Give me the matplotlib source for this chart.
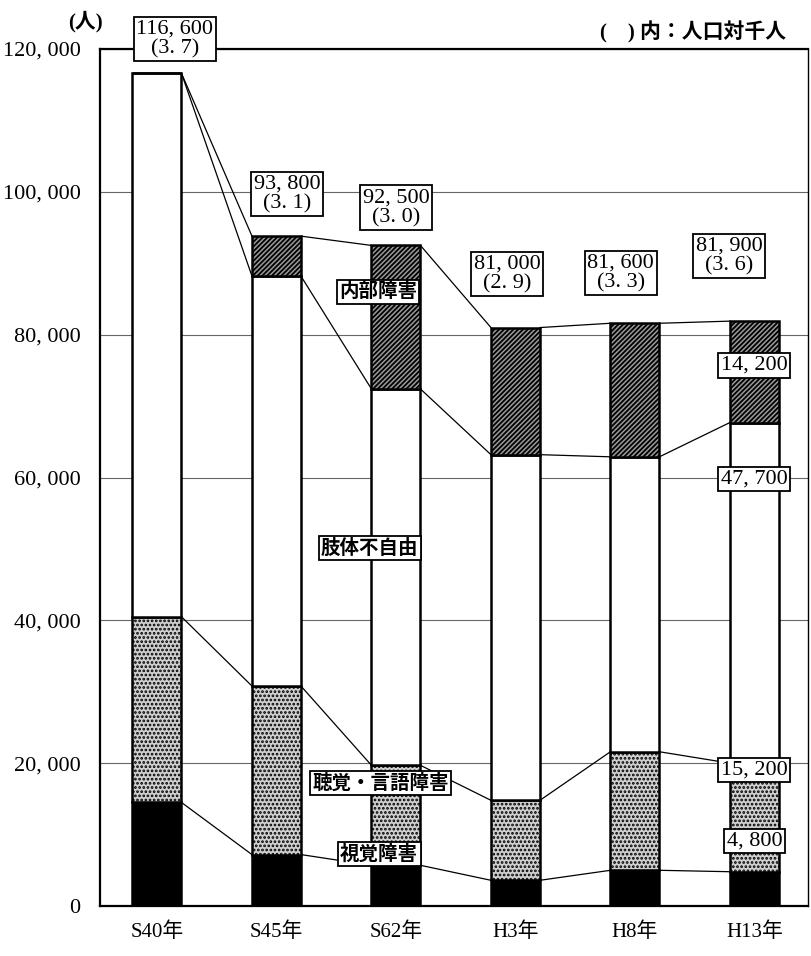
import matplotlib.pyplot as plt
import numpy as np

plt.rcParams['font.family'] = ['Liberation Serif', 'Noto Sans CJK JP']
plt.rcParams['hatch.linewidth'] = 1.3

# 身体障害者数の推移（人）
years = ['S40年', 'S45年', 'S62年', 'H3年', 'H8年', 'H13年']
visual = [14500, 7200, 5700, 3600, 5000, 4800]
hearing = [26000, 23600, 14000, 11200, 16600, 15200]
limb = [76100, 57400, 52700, 48400, 41300, 47700]
internal = [0, 5600, 20100, 17800, 18700, 14200]
totals = [116600, 93800, 92500, 81000, 81600, 81900]
per_thousand = ['3. 7', '3. 1', '3. 0', '2. 9', '3. 3', '3. 6']

# 合計ラベルの位置（x, y）
total_pos = [(0.15, 121400), (1.09, 99700), (2.0, 97800), (2.93, 88500), (3.88, 88600), (4.79, 91000)]


def fmt(v):
    return f'{v:,}'.replace(',', ', ')


fig = plt.figure(figsize=(8.11, 9.56), dpi=100)
ax = fig.add_axes([0.1233, 0.0523, 0.8732, 0.8964])

x = np.arange(len(years))
w = 0.41

layers = [
    (visual, dict(color='black', edgecolor='black')),
    (hearing, dict(color='#cfcfcf', edgecolor='black', hatch='....')),
    (limb, dict(color='white', edgecolor='black')),
    (internal, dict(color='#9a9a9a', edgecolor='black', hatch='///////')),
]

bottom = np.zeros(len(years))
for vals, style in layers:
    vals = np.array(vals)
    ax.bar(x, vals, w, bottom=bottom, linewidth=1.8, zorder=3, **style)
    top = bottom + vals
    # 隣り合う棒の境界を結ぶ線
    for i in range(len(years) - 1):
        ax.plot([x[i] + w / 2, x[i + 1] - w / 2], [top[i], top[i + 1]],
                color='black', linewidth=0.9, zorder=2)
    bottom = top

box = dict(boxstyle='square,pad=0.12', facecolor='white', edgecolor='black', linewidth=1.3)

for (tx, ty), t, p in zip(total_pos, totals, per_thousand):
    ax.text(tx, ty, f'{fmt(t)}\n({p})', ha='center', va='center', fontsize=16,
            linespacing=1.05, bbox=box, zorder=5)

# 区分名
cat_style = dict(ha='center', va='center', fontsize=14, fontweight='bold', bbox=box, zorder=5)
ax.text(1.85, 86000, '内部障害', **cat_style)
ax.text(1.78, 50100, '肢体不自由', **cat_style)
ax.text(1.87, 17200, '聴覚・言語障害', **cat_style)
ax.text(1.86, 7300, '視覚障害', **cat_style)

# H13年の内訳
h13 = x[-1]
num_style = dict(ha='center', va='center', fontsize=16, bbox=box, zorder=5)
ax.text(h13, 75700, fmt(internal[-1]), **num_style)
ax.text(h13, 59800, fmt(limb[-1]), **num_style)
ax.text(h13, 19000, fmt(hearing[-1]), **num_style)
ax.text(h13, 9100, fmt(visual[-1]), **num_style)

ax.set_xlim(-0.477, 5.45)
ax.set_ylim(0, 120000)
ax.set_yticks(range(0, 120001, 20000))
ax.set_yticklabels([fmt(v) for v in range(0, 120001, 20000)], fontsize=16)
ax.set_xticks(x)
ax.set_xticklabels(years, fontsize=15)
ax.tick_params(axis='both', length=0, pad=12)
ax.tick_params(axis='y', pad=14)
ax.grid(axis='y', color='#666666', linewidth=0.8, zorder=0)

for s in ['left', 'top', 'bottom']:
    ax.spines[s].set_linewidth(1.6)
ax.spines['right'].set_linewidth(1.0)

fig.text(0.105, 0.977, '(人)', ha='center', va='center', fontsize=15, fontweight='bold')
fig.text(0.855, 0.966, '(    ) 内：人口対千人', ha='center', va='center', fontsize=15,
         fontweight='bold')

fig.savefig('out.png', dpi=100)
